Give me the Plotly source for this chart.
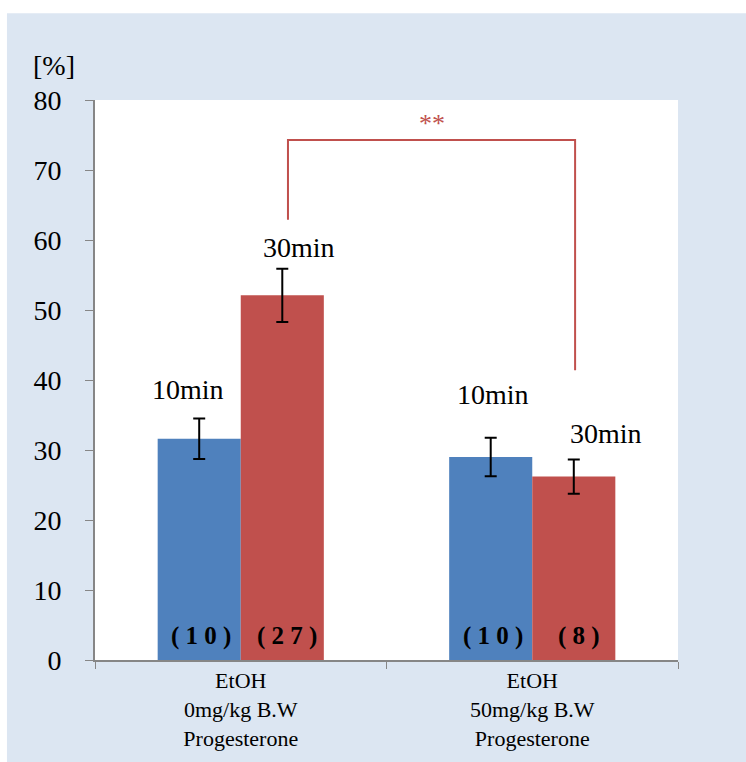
import plotly.graph_objects as go

categories = ["EtOH<br>0mg/kg B.W<br>Progesterone", "EtOH<br>50mg/kg B.W<br>Progesterone"]
series_names = ["10min", "30min"]
values_10min = [31.6, 29.0]
values_30min = [52.1, 26.2]
err_10min = [2.9, 2.75]
err_30min = [3.8, 2.45]
counts_10min = ["( 1 0 )", "( 1 0 )"]
counts_30min = ["( 2 7 )", "( 8 )"]
y_ticks = [0, 10, 20, 30, 40, 50, 60, 70, 80]

BLUE = "#4F81BD"
RED = "#C0504D"
SERIF = "Liberation Serif"
BW = 0.285

fig = go.Figure()
fig.add_trace(go.Bar(x=categories, y=values_10min, name=series_names[0], marker=dict(color=BLUE, line=dict(width=0)),
                     width=BW, offset=-BW,
                     error_y=dict(type="data", array=err_10min, color="black", thickness=2, width=6)))
fig.add_trace(go.Bar(x=categories, y=values_30min, name=series_names[1], marker=dict(color=RED, line=dict(width=0)),
                     width=BW, offset=0,
                     error_y=dict(type="data", array=err_30min, color="black", thickness=2, width=6)))

ann = []
# time labels
time_pos = [(0 - BW / 2, 38.7, -11), (0 + BW / 2, 58.9, 17), (1 - BW / 2, 37.9, 2), (1 + BW / 2, 32.3, 32)]
time_txt = [series_names[0], series_names[1], series_names[0], series_names[1]]
for (x, y, xs), t in zip(time_pos, time_txt):
    ann.append(dict(x=x, y=y, xref="x", yref="y", text=t, showarrow=False, xshift=xs,
                    xanchor="center", yanchor="middle",
                    font=dict(family=SERIF, size=28, color="black")))
# counts
for i in range(2):
    ann.append(dict(x=i - BW / 2, y=3.4, xref="x", yref="y", text="<b>" + counts_10min[i] + "</b>", showarrow=False,
                    xshift=2, xanchor="center", yanchor="middle", font=dict(family=SERIF, size=25, color="black")))
    ann.append(dict(x=i + BW / 2, y=3.4, xref="x", yref="y", text="<b>" + counts_30min[i] + "</b>", showarrow=False,
                    xshift=5, xanchor="center", yanchor="middle", font=dict(family=SERIF, size=25, color="black")))
# significance
ann.append(dict(x=0.655, y=76.6, xref="x", yref="y", text="**", showarrow=False,
                xanchor="center", yanchor="middle", font=dict(family=SERIF, size=26, color=RED)))
# y unit
ann.append(dict(x=-0.07, y=1.061, xref="paper", yref="paper", text="[%]", showarrow=False,
                xanchor="center", yanchor="middle", font=dict(family=SERIF, size=28, color="black")))

shapes = [
    dict(type="rect", xref="paper", yref="paper", x0=-0.151, x1=1.12, y0=-0.19, y1=1.155,
         fillcolor="#DCE6F2", line=dict(width=0), layer="below"),
    dict(type="rect", xref="paper", yref="paper", x0=0, x1=1, y0=0, y1=1,
         fillcolor="white", line=dict(width=0), layer="below"),
    dict(type="path", xref="x", yref="y", path="M 0.162 62.9 L 0.162 74.3 L 1.147 74.3 L 1.147 41.4",
         line=dict(color=RED, width=2)),
]

fig.update_layout(
    width=746, height=762,
    margin=dict(l=95, r=68, t=100, b=102),
    paper_bgcolor="white", plot_bgcolor="white",
    showlegend=False, barmode="group",
    annotations=ann, shapes=shapes,
    font=dict(family=SERIF, color="black"),
)
fig.update_xaxes(type="category", range=[-0.5, 1.5], tickson="boundaries", ticks="outside", ticklen=7,
                 tickcolor="#868686", showline=True, linecolor="#868686", linewidth=2, showgrid=False,
                 tickfont=dict(family=SERIF, size=22, color="black"))
fig.update_yaxes(range=[0, 80], tickvals=y_ticks, ticks="outside", ticklen=8, tickcolor="#868686",
                 showline=True, linecolor="#868686", linewidth=2, showgrid=False, zeroline=False,
                 ticklabelstandoff=18, tickfont=dict(family=SERIF, size=28, color="black"))

fig.write_html("out.html")
